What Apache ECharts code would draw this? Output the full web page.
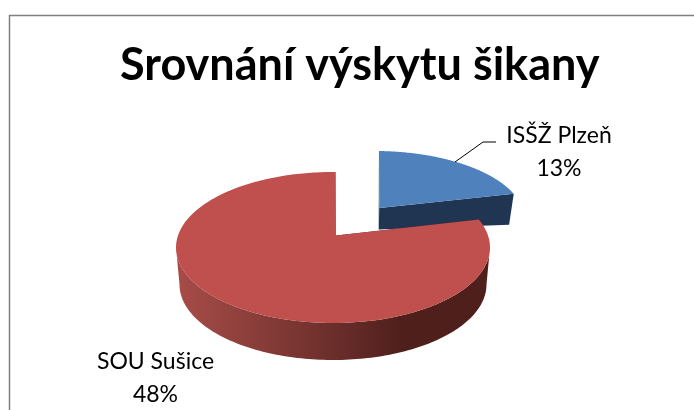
<!DOCTYPE html>
<html>
<head>
<meta charset="utf-8">
<style>html,body{margin:0;padding:0;background:#fff}#c{width:694px;height:410px}</style>
<script src="https://cdn.jsdelivr.net/npm/echarts@6/dist/echarts.min.js"></script>
</head>
<body>
<div id="c"></div>
<script>
var titleText = 'Srovnání výskytu šikany';
var categories = ['ISŠŽ Plzeň', 'SOU Sušice'];
var values = [13, 48];
var FONT = 'Lato, "Open Sans", sans-serif';

// Projection of each exploded slice's disk (the reference is a perspective 3D pie)
var views = [
  {cx: 375, cy: 220, rx: 150, ry: 69, ax: 379.3, ay: 208, depthApex: 21.5, depthRim: 31, inset: 5,
   top: '#4f81bd', cut: '#1f3552', wall: '#1f3552',
   label: {x: 559, y: 152.5}, leader: [[455, 162], [483, 142], [496, 142]]},
  {cx: 333, cy: 247.5, rx: 157, ry: 75.5, ax: 336, ay: 235.5, depthApex: 36, depthRim: 37, inset: 3.5,
   top: '#c0504d', cut: '#4f1f1c',
   wall: {type: 'linear', x: 0, y: 0, x2: 1, y2: 0, colorStops: [
     {offset: 0, color: '#a84c48'}, {offset: 0.25, color: '#8a3e3a'},
     {offset: 0.5, color: '#6b2e2b'}, {offset: 0.72, color: '#4f1f1c'}, {offset: 1, color: '#4f1f1c'}]},
   label: {x: 155.5, y: 378}, leader: null}
];

var total = values.reduce(function (a, b) { return a + b; }, 0);

// Perspective: true angle on the unit disk -> point of the projected ellipse
function rimUnit(v, a) {
  var wx = (v.ax - v.cx) / v.rx, wy = (v.cy - v.ay) / v.ry;
  var ux = Math.sin(a), uy = Math.cos(a);
  var g = 1 / Math.sqrt(1 - wx * wx - wy * wy);
  var d = wx * ux + wy * uy, k = g / (1 + g) * d;
  return [(wx + ux / g + k * wx) / (1 + d), (wy + uy / g + k * wy) / (1 + d)];
}

function renderSlice(params, api) {
  var i = params.dataIndex, v = views[i];
  var start = 0;
  for (var j = 0; j < i; j++) start += values[j];
  var a0 = start / total * 2 * Math.PI;
  var a1 = (start + api.value(0)) / total * 2 * Math.PI;
  var N = 240, topRim = [], unit = [];
  for (var n = 0; n <= N; n++) {
    var u = rimUnit(v, a0 + (a1 - a0) * n / N);
    unit.push(u);
    topRim.push([v.cx + v.rx * u[0], v.cy - v.ry * u[1]]);
  }
  function lower(n) { return [topRim[n][0] - v.inset * unit[n][0], topRim[n][1] + v.depthRim]; }
  var iMax = 0, iMin = 0;
  unit.forEach(function (u, n) { if (u[0] > unit[iMax][0]) iMax = n; if (u[0] < unit[iMin][0]) iMin = n; });

  var kids = [];
  // outer wall
  if (iMin > iMax) {
    var wall = [];
    for (var n1 = iMax; n1 <= iMin; n1++) wall.push(topRim[n1]);
    for (var n2 = iMin; n2 >= iMax; n2--) wall.push(lower(n2));
    kids.push({type: 'polygon', shape: {points: wall}, style: {fill: v.wall}});
  }
  // cut faces
  var apexLow = [v.ax - 0.6, v.ay + v.depthApex];
  kids.push({type: 'polygon', shape: {points: [[v.ax, v.ay], topRim[0], lower(0), apexLow]}, style: {fill: v.cut}});
  kids.push({type: 'polygon', shape: {points: [[v.ax, v.ay], topRim[N], lower(N), apexLow]}, style: {fill: v.cut}});
  // top face
  kids.push({type: 'polygon', shape: {points: [[v.ax, v.ay]].concat(topRim)}, style: {fill: v.top}});
  // leader + label
  if (v.leader) kids.push({type: 'polyline', shape: {points: v.leader}, style: {fill: 'none', stroke: '#000', lineWidth: 1}});
  kids.push({type: 'text', x: v.label.x, y: v.label.y, style: {
    text: categories[i] + '\n' + api.value(0) + '%', fill: '#000',
    font: '23px ' + FONT, lineHeight: 33, align: 'center', verticalAlign: 'middle'}});
  return {type: 'group', children: kids};
}

var chart = echarts.init(document.getElementById('c'), null, {renderer: 'canvas'});
chart.setOption({
  animation: false,
  backgroundColor: '#fff',
  title: {text: titleText, left: 115, top: 38,
    textStyle: {fontFamily: FONT, fontWeight: 'bold', fontSize: 45, color: '#000'}},
  graphic: [{type: 'polyline', silent: true, z: -1,
    shape: {points: [[9.5, 410], [9.5, 15.5], [694, 15.5]]},
    style: {fill: 'none', stroke: '#808080', lineWidth: 1.5}}],
  series: [{
    type: 'custom', coordinateSystem: 'none', renderItem: renderSlice,
    data: values.map(function (val, i) { return {name: categories[i], value: [val]}; }),
    silent: true
  }]
});
</script>
</body>
</html>
